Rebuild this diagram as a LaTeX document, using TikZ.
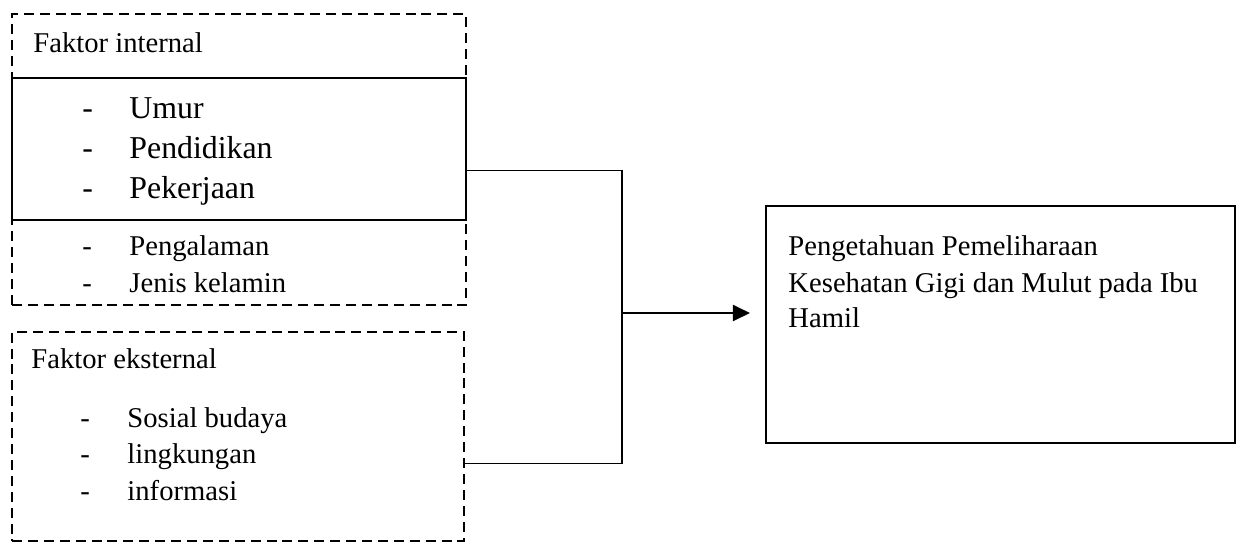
\documentclass[tikz,border=0pt]{standalone}
\usepackage{fontspec}
\setmainfont{Liberation Serif}
\usetikzlibrary{calc,arrows.meta}
\tikzset{
    dashbox/.style={draw,line width=0.95pt,dash pattern=on 4.4pt off 2.6pt},
    solidbox/.style={draw,line width=1pt},
    boxsize/.style 2 args={minimum width=#1*0.44pt,minimum height=#2*0.44pt,inner sep=0pt},
    label/.style={inner sep=0pt,anchor=base west,font=\fontsize{12.6}{15.8}\selectfont},
    biglabel/.style={inner sep=0pt,anchor=base west,font=\fontsize{14}{17.6}\selectfont},
    link/.style={line width=0.5pt},
    flow/.style={line width=1pt,-{Triangle[length=7.5pt,width=7pt]}},
    }

\begin{document}
\begin{tikzpicture}[x=0.44pt,y=-0.44pt]
\useasboundingbox (0,0) rectangle (1240,543);
% boxes
\node[dashbox,boxsize={454}{291}] (internal) at (239,159.5) {};
\node[solidbox,boxsize={454}{142}] (inner) at (239,149) {};
\node[dashbox,boxsize={452}{209}] (external) at (238,436.5) {};
\node[solidbox,boxsize={469}{237}] (result) at (1000.5,324.5) {};
% faktor internal
\node[label] (intitle) at (33,52) {Faktor internal};
\foreach \y/\t [count=\i] in {118/Umur,158/Pendidikan,198/Pekerjaan}{
    \node[biglabel] (indash\i) at (82,\y) {-};
    \node[biglabel] (initem\i) at (129,\y) {\t};
}
\foreach \y/\t [count=\i] in {255/Pengalaman,292/Jenis kelamin}{
    \node[label] (exdash\i) at (82,\y) {-};
    \node[label] (exitem\i) at (129,\y) {\t};
}
% faktor eksternal
\node[label] (extitle) at (31,368) {Faktor eksternal};
\foreach \y/\t [count=\i] in {427/Sosial budaya,463/lingkungan,500/informasi}{
    \node[label] (extdash\i) at (80,\y) {-};
    \node[label] (extitem\i) at (127,\y) {\t};
}
% hasil
\foreach \y/\t [count=\i] in {255/Pengetahuan Pemeliharaan,292/Kesehatan Gigi dan Mulut pada Ibu,327/Hamil}{
    \node[label] (result\i) at (788,\y) {\t};
}
% connectors
\coordinate (inout) at ($(inner.north east)!0.648!(inner.south east)$);
\coordinate (extout) at ($(external.north east)!0.627!(external.south east)$);
\coordinate (bus) at (622,313);
\coordinate (tip) at (750,313);
\draw[link] (inout) -| (bus) |- (extout);
\draw[flow] (bus) -- (tip);
\end{tikzpicture}
\end{document}
